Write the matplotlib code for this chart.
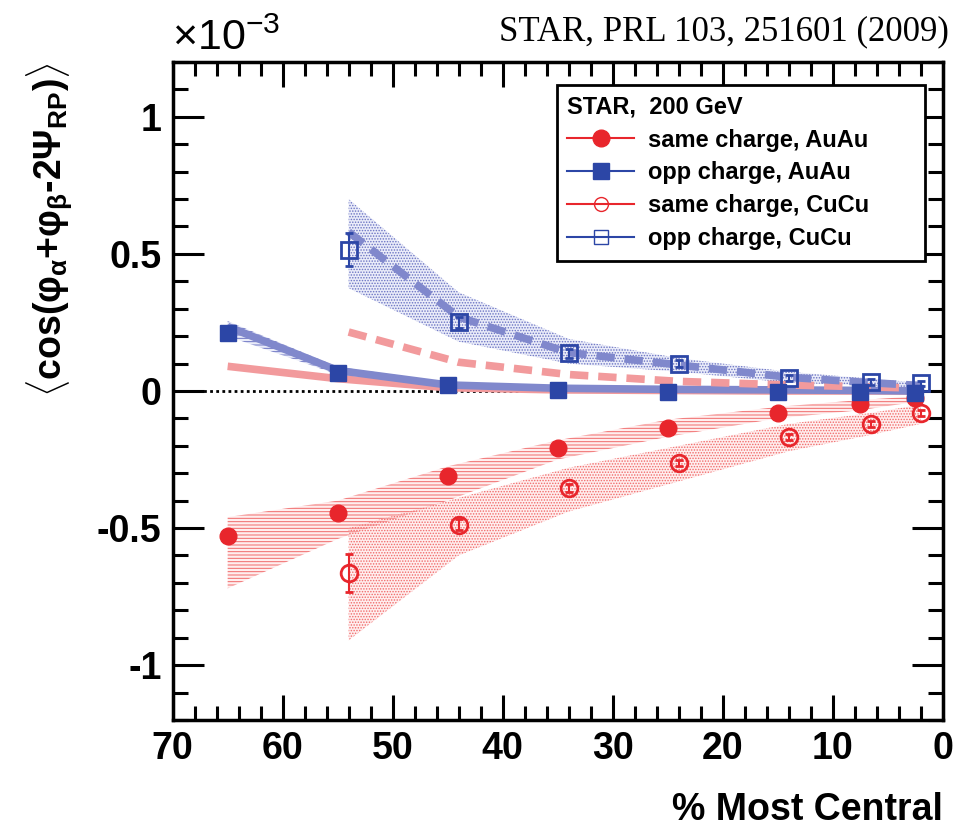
import matplotlib
matplotlib.use("Agg")
import matplotlib.pyplot as plt
import matplotlib.ticker as mticker
from matplotlib.lines import Line2D

plt.rcParams["font.family"] = ["Liberation Sans", "DejaVu Sans"]
plt.rcParams["mathtext.fontset"] = "custom"
plt.rcParams["mathtext.rm"] = "Liberation Sans:bold"
plt.rcParams["mathtext.it"] = "Liberation Sans:bold"
plt.rcParams["mathtext.bf"] = "Liberation Sans:bold"
plt.rcParams["hatch.linewidth"] = 0.7

# Au+Au centrality bins
auau_x = [65, 55, 45, 35, 25, 15, 7.5, 2.5]
auau_same = [-0.53, -0.445, -0.31, -0.207, -0.135, -0.08, -0.047, -0.027]
auau_same_err = [0.03, 0.015, 0.012, 0.01, 0.008, 0.008, 0.008, 0.008]
auau_same_sys_hi = [-0.46, -0.40, -0.275, -0.18, -0.105, -0.058, -0.033, -0.02]
auau_same_sys_lo = [-0.72, -0.54, -0.40, -0.25, -0.167, -0.10, -0.07, -0.04]
auau_opp = [0.21, 0.066, 0.022, 0.003, -0.003, -0.003, -0.005, -0.008]
auau_opp_err = [0.03, 0.012, 0.008, 0.006, 0.005, 0.005, 0.005, 0.005]
auau_opp_sys_hi = [0.255, 0.088, 0.032, 0.016, 0.01, 0.006, 0.004, 0.002]
auau_opp_sys_lo = [0.2, 0.06, 0.012, 0.0, -0.004, -0.006, -0.008, -0.01]
auau_same_curve = [0.09, 0.045, 0.012, 0.004, 0.002, 0.0, 0.0, 0.0]
auau_opp_curve = [0.235, 0.075, 0.022, 0.01, 0.006, 0.004, 0.002, 0.0]

# Cu+Cu centrality bins
cucu_x = [54, 44, 34, 24, 14, 6.5, 2]
cucu_same = [-0.665, -0.487, -0.353, -0.262, -0.167, -0.12, -0.08]
cucu_same_err = [0.07, 0.02, 0.015, 0.012, 0.01, 0.01, 0.01]
cucu_same_sys_hi = [-0.50, -0.39, -0.28, -0.20, -0.12, -0.08, -0.05]
cucu_same_sys_lo = [-0.91, -0.60, -0.44, -0.33, -0.22, -0.16, -0.12]
cucu_opp = [0.515, 0.25, 0.137, 0.10, 0.047, 0.033, 0.028]
cucu_opp_err = [0.06, 0.02, 0.015, 0.012, 0.01, 0.01, 0.01]
cucu_opp_sys_hi = [0.70, 0.36, 0.19, 0.12, 0.07, 0.045, 0.03]
cucu_opp_sys_lo = [0.375, 0.18, 0.10, 0.07, 0.03, 0.02, 0.01]
cucu_same_curve = [0.215, 0.105, 0.06, 0.035, 0.022, 0.015, 0.01]
cucu_opp_curve = [0.58, 0.27, 0.14, 0.095, 0.05, 0.03, 0.02]

red = "#e8262c"
blue = "#2c46a6"
pink = "#f29a9c"
lblue = "#8088cc"

fig = plt.figure(figsize=(9.54, 8.31), dpi=100)
ax = fig.add_axes([0.181, 0.1336, 0.807, 0.7918])

# systematic bands
ax.fill_between(auau_x, auau_same_sys_lo, auau_same_sys_hi, facecolor=(1, 0.82, 0.82, 0.35),
                edgecolor="#f06a6a", hatch="-----", linewidth=0, zorder=1)
ax.fill_between(cucu_x, cucu_same_sys_lo, cucu_same_sys_hi, facecolor=(1, 0.82, 0.82, 0.35),
                edgecolor="#f06a6a", hatch="......", linewidth=0, zorder=1)
ax.fill_between(cucu_x, cucu_opp_sys_lo, cucu_opp_sys_hi, facecolor=(0.82, 0.84, 0.95, 0.45),
                edgecolor="#6a72c2", hatch="......", linewidth=0, zorder=1)
ax.fill_between(auau_x, auau_opp_sys_lo, auau_opp_sys_hi, facecolor=(0.82, 0.84, 0.95, 0.45),
                edgecolor="#6a72c2", hatch="-----", linewidth=0, zorder=1)

ax.axhline(0, color="black", linestyle=(0, (1, 1.2)), linewidth=2, zorder=2)

# model curves
ax.plot(auau_x, auau_same_curve, color=pink, linewidth=5.5, solid_capstyle="butt", zorder=3)
ax.plot(auau_x, auau_opp_curve, color=lblue, linewidth=5.5, solid_capstyle="butt", zorder=3)
ax.plot(cucu_x, cucu_same_curve, color=pink, linewidth=5.5, linestyle=(0, (2.4, 1.3)), zorder=3)
ax.plot(cucu_x, cucu_opp_curve, color=lblue, linewidth=5.5, linestyle=(0, (2.4, 1.3)), zorder=3)

# data points
ax.errorbar(auau_x, auau_same, yerr=auau_same_err, fmt="o", color=red, markersize=12,
            elinewidth=1.5, capsize=0, zorder=5)
ax.errorbar(auau_x, auau_opp, yerr=auau_opp_err, fmt="s", color=blue, markersize=12,
            elinewidth=1.5, capsize=0, zorder=5)
ax.errorbar(cucu_x, cucu_same, yerr=cucu_same_err, fmt="o", color=red, mfc="none", markersize=12,
            mew=2, elinewidth=1.5, capsize=3, zorder=5)
ax.errorbar(cucu_x, cucu_opp, yerr=cucu_opp_err, fmt="s", color=blue, mfc="none", markersize=12,
            mew=2, elinewidth=1.5, capsize=3, zorder=5)

ax.set_xlim(70, 0)
ax.set_ylim(-1.2, 1.2)
ax.xaxis.set_major_locator(mticker.MultipleLocator(10))
ax.xaxis.set_minor_locator(mticker.MultipleLocator(2))
ax.yaxis.set_major_locator(mticker.FixedLocator([-1, -0.5, 0, 0.5, 1]))
ax.yaxis.set_minor_locator(mticker.MultipleLocator(0.1))
ax.yaxis.set_major_formatter(mticker.FuncFormatter(lambda v, p: f"{v:g}"))
ax.tick_params(which="both", direction="in", top=True, right=True, width=2.2)
ax.tick_params(axis="x", which="major", length=18, labelsize=27, pad=8)
ax.tick_params(axis="x", which="minor", length=10)
ax.tick_params(axis="y", which="major", length=22, labelsize=27, pad=8)
ax.tick_params(axis="y", which="minor", length=11)
for lab in ax.get_xticklabels() + ax.get_yticklabels():
    lab.set_fontweight("bold")
for sp in ax.spines.values():
    sp.set_linewidth(2.5)

ax.set_xlabel("% Most Central", fontsize=27, fontweight="bold", loc="right", labelpad=18)
ax.set_ylabel(r"$\langle$cos($\varphi_{\alpha}$+$\varphi_{\beta}$-2$\Psi_{RP}$)$\rangle$",
              fontsize=27, fontweight="bold", loc="top", labelpad=16)

handles = [
    Line2D([], [], color=red, marker="o", markersize=12, linewidth=1.5),
    Line2D([], [], color=blue, marker="s", markersize=12, linewidth=1.5),
    Line2D([], [], color=red, marker="o", mfc="none", markersize=10, linewidth=1.5),
    Line2D([], [], color=blue, marker="s", mfc="none", markersize=10, linewidth=1.5),
]
labels = ["same charge, AuAu", "opp charge, AuAu", "same charge, CuCu", "opp charge, CuCu"]
leg = ax.legend(handles, labels, title="STAR,  200 GeV", loc="upper left", mode="expand",
                bbox_to_anchor=(0.499, 0.696, 0.478, 0.269), fancybox=False, edgecolor="black",
                framealpha=1, prop={"weight": "bold", "size": 17},
                title_fontproperties={"weight": "bold", "size": 17},
                handlelength=2.8, handletextpad=0.6, borderpad=0.45, labelspacing=0.42,
                borderaxespad=0)
leg._legend_box.align = "left"
leg.set_zorder(10)
leg.get_frame().set_linewidth(2)

fig.text(0.18, 0.94, "×10$^{\\mathregular{-3}}$", fontsize=31, family="Liberation Sans")
fig.text(0.995, 0.962, "STAR, PRL 103, 251601 (2009)", fontsize=25, family="Liberation Serif",
         ha="right", va="center")

fig.savefig("out.png", dpi=100)
